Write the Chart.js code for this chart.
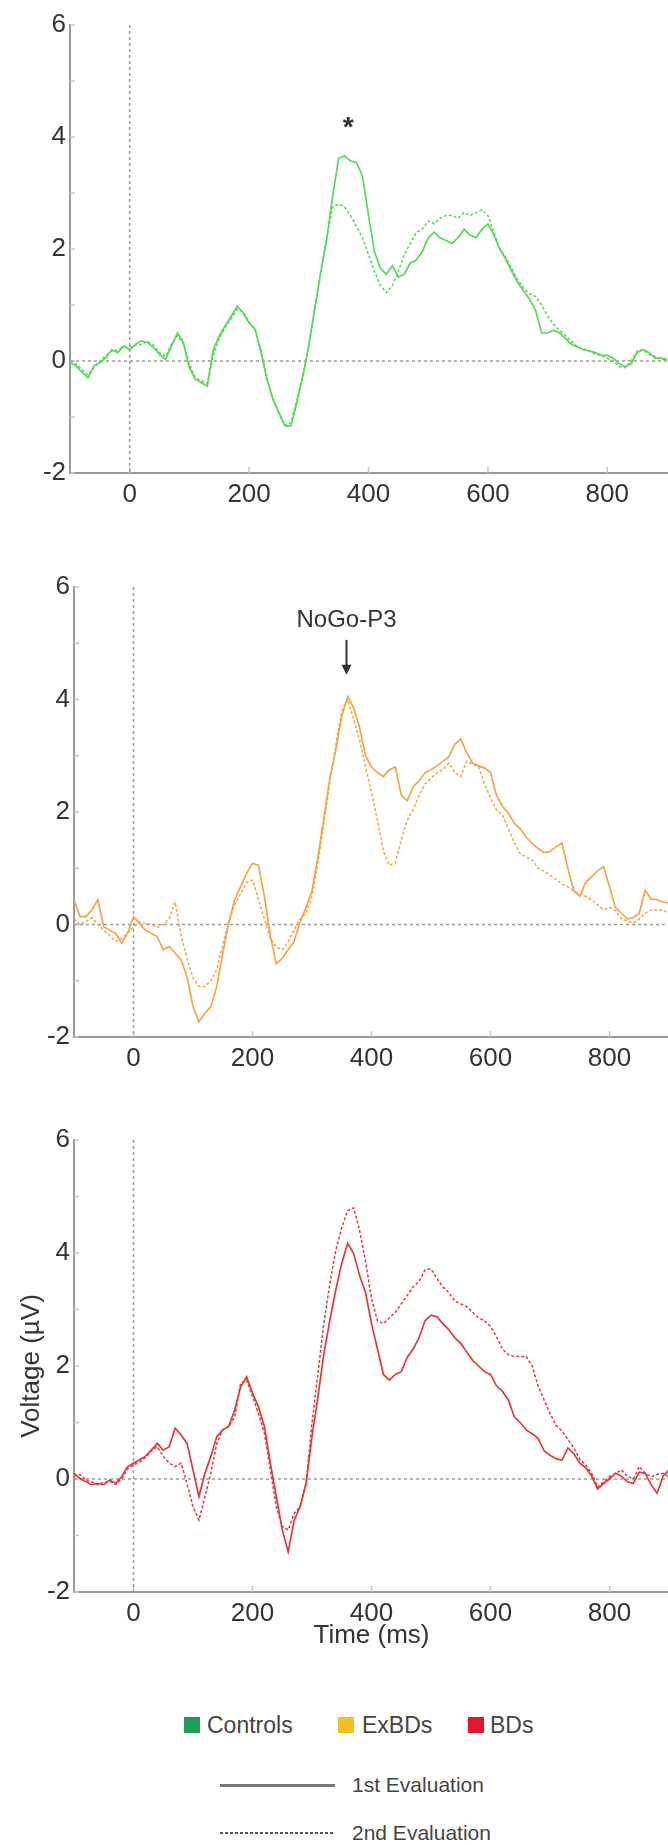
<!DOCTYPE html>
<html>
<head>
<meta charset="utf-8">
<script src="https://cdn.jsdelivr.net/npm/chart.js@4.4.1/dist/chart.umd.min.js"></script>
<style>
  body { margin: 0; width: 668px; height: 1845px; overflow: hidden; background: #fff;
         font-family: "Liberation Sans", Arial, sans-serif; color: #444; }
  .panel { position: absolute; left: 0; width: 668px; overflow: hidden; }
  .sq { position: absolute; width: 16px; height: 16px; }
  .lbl { position: absolute; white-space: nowrap; line-height: 28px; }
</style>
</head>
<body>

<div class="panel" style="top:0; height:520px"><canvas id="c1" width="668" height="520"></canvas></div>
<div class="panel" style="top:540px; height:530px"><canvas id="c2" width="670" height="530"></canvas></div>
<div class="panel" style="top:1090px; height:590px"><canvas id="c3" width="670" height="590"></canvas></div>

<!-- group legend -->
<div class="sq" style="left:184px; top:1717px; background:#1e9e55"></div>
<div class="lbl" style="left:207px; top:1711px; font-size:23px">Controls</div>
<div class="sq" style="left:338px; top:1717px; background:#f0c020"></div>
<div class="lbl" style="left:362px; top:1711px; font-size:23px">ExBDs</div>
<div class="sq" style="left:468px; top:1717px; background:#e3182c"></div>
<div class="lbl" style="left:490px; top:1711px; font-size:23px">BDs</div>

<!-- evaluation legend -->
<div style="position:absolute; left:220px; top:1784px; width:115px; height:3px; background:#777"></div>
<div class="lbl" style="left:352px; top:1771px; font-size:21px">1st Evaluation</div>
<div style="position:absolute; left:220px; top:1832px; width:115px; height:1.5px;
            background:repeating-linear-gradient(to right,#555 0 3px,transparent 3px 5px)"></div>
<div class="lbl" style="left:352px; top:1819px; font-size:21px">2nd Evaluation</div>

<script>
const times = [-100,-90,-80,-70,-60,-50,-40,-30,-20,-10,
  0,10,20,30,40,50,60,70,80,90,
  100,110,120,130,140,150,160,170,180,190,
  200,210,220,230,240,250,260,270,280,290,
  300,310,320,330,340,350,360,370,380,390,
  400,410,420,430,440,450,460,470,480,490,
  500,510,520,530,540,550,560,570,580,590,
  600,610,620,630,640,650,660,670,680,690,
  700,710,720,730,740,750,760,770,780,790,
  800,810,820,830,840,850,860,870,880,890,900];

// Controls
const greenFirst = [-0.03,-0.09,-0.2,-0.3,-0.09,-0.03,0.06,0.2,0.15,0.27,
  0.2,0.3,0.36,0.33,0.24,0.12,0.03,0.27,0.5,0.33,
  -0.12,-0.33,-0.39,-0.45,0.2,0.45,0.63,0.8,0.98,0.86,
  0.68,0.57,0.15,-0.33,-0.68,-0.92,-1.16,-1.16,-0.74,-0.27,
  0.27,0.92,1.58,2.17,2.95,3.62,3.66,3.57,3.54,3.3,
  2.6,1.95,1.65,1.55,1.7,1.5,1.55,1.75,1.8,1.95,
  2.2,2.3,2.2,2.15,2.1,2.2,2.35,2.25,2.2,2.35,
  2.45,2.25,2.0,1.82,1.6,1.4,1.25,1.1,0.9,0.5,
  0.5,0.55,0.5,0.4,0.3,0.25,0.2,0.18,0.15,0.1,
  0.1,0.05,-0.05,-0.1,-0.05,0.15,0.2,0.15,0.05,0.05,0.03];
const greenSecond = [0.0,-0.05,-0.15,-0.25,-0.12,0.0,0.1,0.18,0.2,0.25,
  0.25,0.28,0.3,0.35,0.28,0.15,0.08,0.3,0.45,0.3,
  -0.05,-0.3,-0.35,-0.4,0.1,0.4,0.6,0.75,0.92,0.88,
  0.7,0.55,0.2,-0.3,-0.7,-0.95,-1.15,-1.1,-0.7,-0.25,
  0.3,0.95,1.6,2.2,2.75,2.8,2.75,2.6,2.4,2.2,
  1.9,1.6,1.35,1.22,1.35,1.6,1.9,2.1,2.3,2.35,
  2.5,2.45,2.55,2.6,2.6,2.55,2.65,2.6,2.65,2.7,
  2.6,2.3,2.0,1.85,1.65,1.45,1.3,1.2,1.15,1.0,
  0.8,0.65,0.55,0.45,0.35,0.25,0.22,0.18,0.12,0.1,
  0.05,0.0,-0.1,-0.12,0.0,0.18,0.2,0.12,0.08,0.03,0.02];

// ExBDs
const orangeFirst = [0.44,0.14,0.14,0.26,0.44,-0.04,-0.1,-0.16,-0.33,-0.16,
  0.14,0.02,-0.1,-0.16,-0.22,-0.45,-0.39,-0.51,-0.63,-0.93,
  -1.46,-1.73,-1.58,-1.46,-1.1,-0.51,0.02,0.44,0.67,0.91,
  1.09,1.05,0.5,-0.2,-0.7,-0.6,-0.45,-0.3,0.05,0.3,
  0.6,1.2,1.9,2.6,3.1,3.7,4.05,3.85,3.5,3.0,
  2.8,2.7,2.63,2.75,2.8,2.3,2.2,2.45,2.55,2.7,
  2.75,2.82,2.9,2.98,3.2,3.3,3.05,2.87,2.82,2.78,
  2.7,2.3,2.1,1.98,1.8,1.7,1.55,1.44,1.35,1.28,
  1.3,1.38,1.45,1.0,0.6,0.5,0.75,0.85,0.95,1.03,
  0.67,0.3,0.2,0.1,0.12,0.2,0.61,0.45,0.44,0.4,0.38];
const orangeSecond = [0.1,0.0,0.05,0.12,0.0,-0.1,-0.2,-0.3,-0.25,-0.15,
  -0.05,0.05,0.02,0.0,-0.05,0.0,0.1,0.4,-0.2,-0.6,
  -0.95,-1.1,-1.1,-1.0,-0.8,-0.35,0.05,0.35,0.55,0.75,
  0.79,0.45,0.1,-0.25,-0.4,-0.45,-0.3,-0.1,0.1,0.2,
  0.5,1.1,1.8,2.55,3.2,3.8,4.0,3.65,3.28,2.8,
  2.35,1.85,1.3,1.05,1.1,1.5,1.85,2.04,2.3,2.5,
  2.6,2.7,2.75,2.87,2.7,2.63,2.9,2.85,2.8,2.5,
  2.25,2.04,1.95,1.7,1.45,1.26,1.2,1.15,1.0,0.95,
  0.88,0.8,0.72,0.67,0.6,0.55,0.5,0.44,0.35,0.26,
  0.3,0.25,0.1,0.06,0.03,0.1,0.2,0.26,0.26,0.25,0.2];

// BDs
const redFirst = [0.1,0.01,-0.05,-0.1,-0.08,-0.1,-0.02,-0.08,0.04,0.22,
  0.28,0.34,0.4,0.51,0.63,0.51,0.57,0.9,0.78,0.63,
  0.16,-0.31,0.1,0.4,0.75,0.87,0.93,1.22,1.63,1.81,
  1.52,1.28,0.93,0.28,-0.31,-0.9,-1.29,-0.73,-0.49,-0.08,
  0.75,1.46,2.22,2.81,3.35,3.82,4.17,3.99,3.6,3.3,
  2.75,2.3,1.85,1.75,1.85,1.9,2.15,2.3,2.5,2.8,
  2.9,2.87,2.75,2.64,2.5,2.4,2.25,2.1,2.0,1.9,
  1.85,1.65,1.55,1.4,1.1,1.0,0.87,0.8,0.72,0.5,
  0.42,0.36,0.33,0.55,0.45,0.28,0.2,0.05,-0.18,-0.08,
  0.0,0.1,0.05,-0.05,-0.08,0.12,0.1,-0.1,-0.25,0.05,0.16];
const redSecond = [0.05,0.08,-0.02,-0.05,-0.1,-0.06,-0.04,-0.1,0.0,0.18,
  0.25,0.3,0.38,0.5,0.57,0.4,0.28,0.22,0.28,-0.08,
  -0.49,-0.73,-0.31,0.1,0.63,0.87,0.93,1.1,1.69,1.75,
  1.46,1.16,0.81,0.16,-0.49,-0.84,-0.9,-0.61,-0.49,-0.08,
  0.99,1.87,2.76,3.46,4.05,4.45,4.75,4.8,4.4,3.85,
  3.2,2.8,2.75,2.85,2.95,3.1,3.25,3.4,3.5,3.7,
  3.72,3.55,3.4,3.3,3.15,3.1,3.05,2.95,2.85,2.8,
  2.7,2.52,2.3,2.2,2.17,2.17,2.17,2.0,1.65,1.4,
  1.16,0.95,0.85,0.7,0.55,0.35,0.25,0.1,-0.14,-0.05,
  0.04,0.1,0.16,0.05,0.0,0.22,0.1,0.04,0.08,0.1,0.04];

const xTicks = [0, 200, 400, 600, 800];
const yTicks = [-2, 0, 2, 4, 6];
const yMinor = [-1, 1, 3, 5];

Chart.defaults.font.family = '"Liberation Sans", Arial, sans-serif';
Chart.defaults.color = '#333';

// dotted zero lines (t = 0 and 0 µV) plus small inward tick marks
const zeroLines = {
  id: 'zeroLines',
  beforeDatasetsDraw(chart) {
    const { ctx, chartArea: a, scales: { x, y } } = chart;
    ctx.save();
    ctx.strokeStyle = '#c4c4c4';
    ctx.lineWidth = 1.5;
    xTicks.forEach(v => {
      const px = x.getPixelForValue(v);
      ctx.beginPath(); ctx.moveTo(px, a.bottom); ctx.lineTo(px, a.bottom - 6); ctx.stroke();
    });
    yTicks.concat(yMinor).forEach(v => {
      const py = y.getPixelForValue(v);
      ctx.beginPath(); ctx.moveTo(a.left, py); ctx.lineTo(a.left + 5, py); ctx.stroke();
    });
    ctx.strokeStyle = '#9a9a9a';
    ctx.setLineDash([3, 3]);
    const y0 = y.getPixelForValue(0);
    ctx.beginPath(); ctx.moveTo(a.left, y0); ctx.lineTo(a.right, y0); ctx.stroke();
    const x0 = x.getPixelForValue(0);
    ctx.beginPath(); ctx.moveTo(x0, a.top); ctx.lineTo(x0, a.bottom); ctx.stroke();
    ctx.restore();
  }
};

// "*" / "NoGo-P3" marks
const marks = {
  id: 'marks',
  afterDatasetsDraw(chart, args, opts) {
    if (!opts.text) return;
    const { ctx, scales: { x, y } } = chart;
    const px = x.getPixelForValue(opts.t);
    ctx.save();
    ctx.fillStyle = '#333';
    ctx.strokeStyle = '#333';
    ctx.font = opts.font;
    ctx.textAlign = 'center';
    ctx.textBaseline = 'middle';
    ctx.fillText(opts.text, px, y.getPixelForValue(opts.v));
    if (opts.arrow) {
      const y1 = y.getPixelForValue(opts.arrow[0]);
      const y2 = y.getPixelForValue(opts.arrow[1]);
      ctx.lineWidth = 2;
      ctx.beginPath(); ctx.moveTo(px, y1); ctx.lineTo(px, y2 - 8); ctx.stroke();
      ctx.beginPath();
      ctx.moveTo(px - 5, y2 - 10); ctx.lineTo(px + 5, y2 - 10); ctx.lineTo(px, y2);
      ctx.closePath(); ctx.fill();
    }
    ctx.restore();
  }
};

function series(vals) {
  return vals.map((v, i) => ({ x: times[i], y: v }));
}

function makeChart(id, first, second, color, cfg) {
  const tickFont = { size: 26 };
  return new Chart(document.getElementById(id), {
    type: 'line',
    data: {
      datasets: [
        { label: '1st Evaluation', data: series(first), borderColor: color, borderWidth: 1.7 },
        { label: '2nd Evaluation', data: series(second), borderColor: color, borderWidth: 1.5, borderDash: [3, 2] }
      ]
    },
    options: {
      responsive: false,
      animation: false,
      events: [],
      elements: { point: { radius: 0 }, line: { tension: 0 } },
      layout: { padding: { top: cfg.top, right: 1, left: 0, bottom: 0 } },
      plugins: {
        legend: { display: false },
        tooltip: { enabled: false },
        marks: cfg.mark || {}
      },
      scales: {
        x: {
          type: 'linear', min: -100, max: 900,
          afterBuildTicks: s => { s.ticks = xTicks.map(v => ({ value: v })); },
          afterFit: s => { s.height = cfg.xh; },
          grid: { display: false, drawTicks: false },
          border: { color: '#999', width: 2 },
          ticks: { font: tickFont, padding: 6, maxRotation: 0 },
          title: cfg.xTitle ? { display: true, text: cfg.xTitle, font: { size: 26 }, padding: { top: 29, bottom: 29 } } : { display: false }
        },
        y: {
          min: -2, max: 6,
          afterBuildTicks: s => { s.ticks = yTicks.map(v => ({ value: v })); },
          afterFit: s => { s.width = cfg.yw; },
          grid: { display: false, drawTicks: false },
          border: { color: '#999', width: 2 },
          ticks: { font: tickFont, padding: 4 },
          title: cfg.yTitle ? { display: true, text: cfg.yTitle, font: { size: 26 }, padding: { top: 16, bottom: 16 } } : { display: false }
        }
      }
    },
    plugins: [zeroLines, marks]
  });
}

makeChart('c1', greenFirst, greenSecond, '#58d858', {
  top: 25, xh: 47, yw: 70,
  mark: { text: '*', t: 366, v: 4.15, font: 'bold 28px "Liberation Sans", Arial, sans-serif' }
});
makeChart('c2', orangeFirst, orangeSecond, '#f2a646', {
  top: 47, xh: 33, yw: 74,
  mark: { text: 'NoGo-P3', t: 358, v: 5.41, font: '24px "Liberation Sans", Arial, sans-serif', arrow: [5.06, 4.44] }
});
makeChart('c3', redFirst, redSecond, '#e23a3a', {
  top: 50, xh: 88, yw: 74,
  xTitle: 'Time (ms)', yTitle: 'Voltage (\u00b5V)'
});
</script>
</body>
</html>
